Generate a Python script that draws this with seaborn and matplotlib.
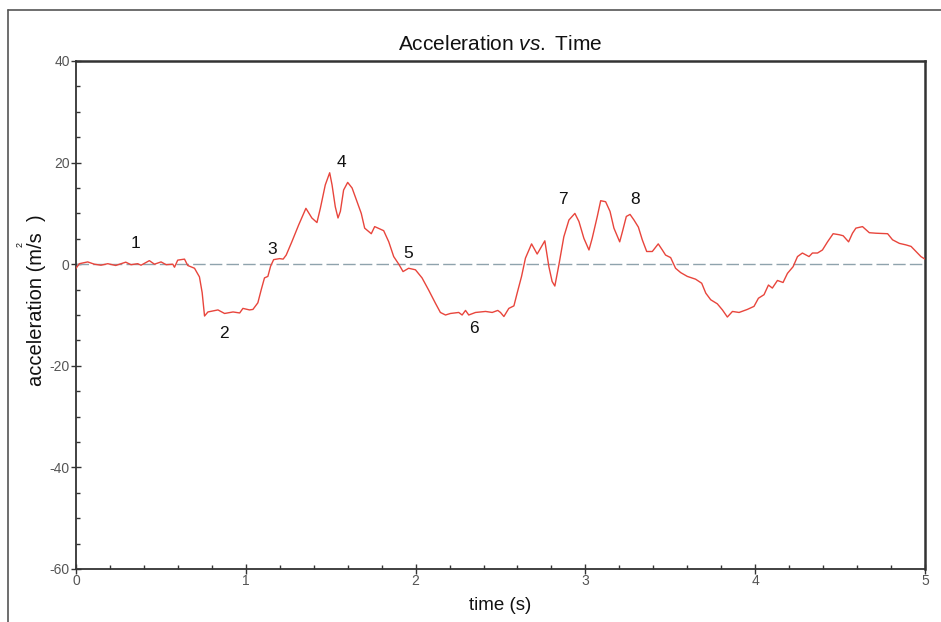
import numpy as np
import pandas as pd
import matplotlib
matplotlib.use("Agg")
import matplotlib.pyplot as plt
import seaborn as sns
from matplotlib.lines import Line2D

# ---- data ----
time_s = [0.000, 0.020, 0.069, 0.108, 0.147, 0.187, 0.234, 0.293, 0.324, 0.363,
          0.383, 0.432, 0.462, 0.501, 0.531, 0.570, 0.580, 0.599, 0.639, 0.658,
          0.698, 0.727, 0.743, 0.757, 0.777, 0.836, 0.875, 0.925, 0.964, 0.983,
          1.022, 1.042, 1.071, 1.091, 1.110, 1.130, 1.146, 1.164, 1.199, 1.220,
          1.238, 1.271, 1.311, 1.354, 1.389, 1.419, 1.439, 1.468, 1.494, 1.508,
          1.527, 1.543, 1.557, 1.576, 1.600, 1.626, 1.655, 1.680, 1.700, 1.739,
          1.759, 1.812, 1.842, 1.871, 1.901, 1.926, 1.959, 1.999, 2.038, 2.077,
          2.117, 2.146, 2.176, 2.205, 2.254, 2.274, 2.294, 2.313, 2.353, 2.412,
          2.451, 2.484, 2.500, 2.520, 2.549, 2.579, 2.598, 2.624, 2.647, 2.683,
          2.716, 2.761, 2.785, 2.804, 2.820, 2.844, 2.873, 2.903, 2.938, 2.962,
          2.991, 3.021, 3.040, 3.070, 3.090, 3.119, 3.145, 3.168, 3.202, 3.218,
          3.241, 3.263, 3.286, 3.312, 3.335, 3.361, 3.394, 3.429, 3.453, 3.472,
          3.502, 3.531, 3.561, 3.600, 3.649, 3.685, 3.709, 3.738, 3.777, 3.807,
          3.836, 3.866, 3.905, 3.954, 3.993, 4.019, 4.052, 4.078, 4.101, 4.131,
          4.164, 4.190, 4.223, 4.249, 4.278, 4.317, 4.337, 4.367, 4.396, 4.426,
          4.459, 4.495, 4.518, 4.550, 4.573, 4.593, 4.632, 4.672, 4.711, 4.780,
          4.809, 4.849, 4.888, 4.918, 4.947, 4.976, 5.000]
accel = [-0.8, 0.1, 0.45, 0.0, -0.2, 0.1, -0.25, 0.4, -0.1, 0.1,
         -0.2, 0.7, 0.0, 0.45, -0.1, 0.0, -0.6, 0.8, 1.0, -0.25,
         -0.8, -2.5, -5.6, -10.2, -9.4, -9.0, -9.7, -9.4, -9.6, -8.7,
         -9.0, -8.9, -7.6, -5.0, -2.7, -2.4, -0.4, 0.9, 1.1, 1.0,
         1.8, 4.4, 7.7, 11.0, 9.1, 8.2, 11.0, 15.6, 18.0, 15.6,
         11.3, 9.1, 10.4, 14.6, 16.1, 15.0, 12.3, 10.0, 7.1, 6.0,
         7.4, 6.6, 4.4, 1.5, 0.0, -1.45, -0.8, -1.1, -2.7, -5.1,
         -7.7, -9.5, -10.0, -9.7, -9.5, -10.0, -9.1, -10.0, -9.5, -9.3,
         -9.5, -9.1, -9.5, -10.3, -8.7, -8.2, -5.7, -2.4, 1.2, 4.0,
         2.0, 4.6, -0.5, -3.4, -4.3, -0.1, 5.4, 8.7, 10.0, 8.4,
         5.1, 2.8, 5.1, 9.4, 12.5, 12.3, 10.4, 7.1, 4.4, 6.4,
         9.4, 9.8, 8.7, 7.3, 4.8, 2.5, 2.5, 4.0, 2.8, 1.8,
         1.3, -0.8, -1.65, -2.4, -2.95, -3.75, -5.7, -7.0, -7.8, -9.0,
         -10.4, -9.3, -9.5, -8.9, -8.3, -6.7, -6.0, -4.1, -4.7, -3.2,
         -3.6, -1.8, -0.5, 1.5, 2.2, 1.5, 2.2, 2.2, 2.8, 4.4,
         6.0, 5.8, 5.6, 4.4, 6.1, 7.1, 7.4, 6.2, 6.1, 6.0,
         4.8, 4.1, 3.8, 3.5, 2.5, 1.5, 1.0]

point_labels = ["1", "2", "3", "4", "5", "6", "7", "8"]
label_t = [0.35, 0.873, 1.156, 1.563, 1.958, 2.341, 2.866, 3.290]
label_a = [4.1, -13.6, 2.8, 20.1, 2.2, -12.6, 12.8, 12.8]

x_major = [0, 1, 2, 3, 4, 5]
y_major = [-60, -40, -20, 0, 20, 40]

df = pd.DataFrame({"time (s)": time_s, "acceleration": accel})

sns.set_theme(style="white")
plt.rcParams["font.family"] = ["Liberation Sans", "DejaVu Sans"]
plt.rcParams["mathtext.fontset"] = "custom"
plt.rcParams["mathtext.rm"] = "Liberation Sans"
plt.rcParams["mathtext.it"] = "Liberation Sans:italic"
plt.rcParams["axes.unicode_minus"] = False

fig = plt.figure(figsize=(9.41, 6.22), dpi=100)
fig.patch.set_facecolor("white")
ax = fig.add_axes([76/941, 1-569/622, (925-76)/941, (569-61)/622])

ax.axhline(0, color="#8fa3ad", lw=1.0, dashes=(9, 3), zorder=1)
sns.lineplot(data=df, x="time (s)", y="acceleration", ax=ax, color="#e8453c",
             lw=1.0, zorder=3, estimator=None, sort=False)

for lab, tx, ay in zip(point_labels, label_t, label_a):
    ax.text(tx, ay, lab, fontsize=12.5, ha="center", va="center", color="#111111")

ax.set_xlim(0, 5)
ax.set_ylim(-60, 40)
ax.set_xticks(x_major)
ax.set_yticks(y_major)
ax.set_xticks(np.arange(0, 5.01, 0.2), minor=True)
ax.set_yticks(np.arange(-60, 40.1, 5), minor=True)
ax.tick_params(which="both", bottom=True, left=True, top=False, right=False)
ax.tick_params(axis="both", which="major", direction="inout", length=7, width=1,
               color="#333333", labelsize=10, labelcolor="#555555")
ax.tick_params(axis="both", which="minor", direction="in", length=3, width=1,
               color="#333333")
ax.tick_params(axis="y", which="major", pad=1)
ax.tick_params(axis="x", which="major", pad=0)

for side in ["left", "bottom"]:
    ax.spines[side].set_color("#333333")
    ax.spines[side].set_linewidth(1.3)
for side in ["top", "right"]:
    ax.spines[side].set_color("#333333")
    ax.spines[side].set_linewidth(1.8)

ax.set_xlabel("")
ax.set_ylabel("")
ax.set_title("$\\mathrm{Acceleration}\\ \\mathit{vs.}\\ \\mathrm{Time}$",
             fontsize=15, color="#111111", pad=8)

fig.text(500/941, 1-606/622, "time (s)", fontsize=13.5, ha="center", va="center",
         color="#111111")
fig.text(37/941, 1-300/622, "acceleration (m/s  )", fontsize=14.5, rotation=90,
         ha="center", va="center", color="#111111")
fig.text(20/941, 1-245/622, "2", fontsize=6.5, rotation=90, ha="center", va="center",
         color="#111111")

# outer frame of the original window
fig.add_artist(Line2D([8/941, 8/941], [0, 1-10/622], transform=fig.transFigure,
                      color="#555555", lw=1.2))
fig.add_artist(Line2D([8/941, 1], [1-10/622, 1-10/622], transform=fig.transFigure,
                      color="#555555", lw=1.2))

fig.savefig("out.png", dpi=100)
